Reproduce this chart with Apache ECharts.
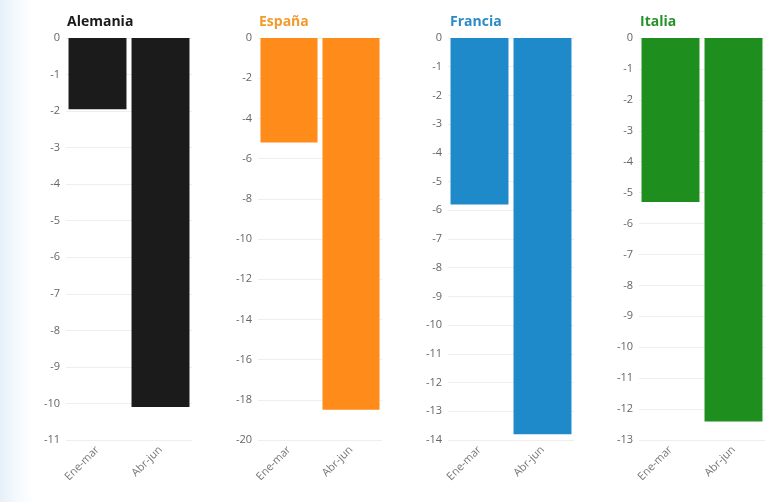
<!DOCTYPE html>
<html><head><meta charset="utf-8">
<script src="https://cdn.jsdelivr.net/npm/echarts@6/dist/echarts.min.js"></script>
<style>
html,body{margin:0;padding:0;background:#fff;}
#c{width:767px;height:502px;background:linear-gradient(to right,#e6f0f8 0px,#f6fafd 18px,#ffffff 34px);}
</style></head><body>
<div id="c"></div>
<script>
const countries = ['Alemania', 'España', 'Francia', 'Italia'];
const categories = ['Ene-mar', 'Abr-jun'];
const alemania = [-1.95, -10.1];
const espana = [-5.2, -18.5];
const francia = [-5.8, -13.8];
const italia = [-5.3, -12.4];
const axisMin = [-11, -20, -14, -13];
const axisInterval = [1, 2, 1, 1];
const barColors = ['#1b1b1b', '#ff8c1a', '#1f8ac9', '#1e8f1e'];
const titleColors = ['#1a1a1a', '#f39a2e', '#2a8bc6', '#27922a'];

const values = [alemania, espana, francia, italia];
const lefts = [66, 258, 448, 639];
const widths = [126, 124, 126, 126];
const titleLefts = [62, 254, 445, 635];

const chart = echarts.init(document.getElementById('c'), null, {renderer: 'canvas'});
const option = {
  animation: false,
  title: countries.map((c, i) => ({
    text: c, left: titleLefts[i], top: 10,
    textStyle: {fontFamily: 'Open Sans', fontWeight: 'bold', fontSize: 14, color: titleColors[i]}
  })),
  grid: countries.map((c, i) => ({left: lefts[i], width: widths[i], top: 38, height: 402})),
  xAxis: countries.map((c, i) => ({
    type: 'category', gridIndex: i, data: categories, position: 'bottom',
    axisLine: {show: false}, axisTick: {show: false},
    axisLabel: {rotate: 45, color: '#777', fontSize: 11, fontFamily: 'Open Sans', margin: 8, interval: 0}
  })),
  yAxis: countries.map((c, i) => ({
    type: 'value', gridIndex: i, min: axisMin[i], max: 0, interval: axisInterval[i],
    axisLine: {show: false}, axisTick: {show: false},
    axisLabel: {color: '#666', fontSize: 11, fontFamily: 'Open Sans', margin: 6},
    splitLine: {lineStyle: {color: '#eeeeee', width: 1}}
  })),
  series: countries.map((c, i) => ({
    type: 'bar', name: c, xAxisIndex: i, yAxisIndex: i, data: values[i],
    barCategoryGap: '8%',
    itemStyle: {color: barColors[i]}
  }))
};
chart.setOption(option);
</script>
</body></html>
